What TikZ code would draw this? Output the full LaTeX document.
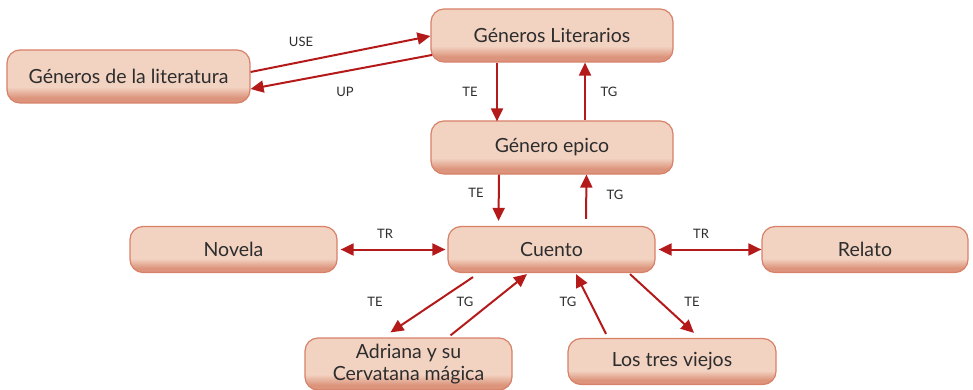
\documentclass[tikz,border=0pt]{standalone}
\usepackage{fontspec}
\setmainfont{Lato}
\usetikzlibrary{arrows.meta,calc}
\definecolor{topc}{RGB}{242,210,193}
\definecolor{botc}{RGB}{220,148,124}
\definecolor{edgec}{RGB}{216,128,104}
\definecolor{arr}{RGB}{180,26,26}
\definecolor{txt}{RGB}{45,45,45}
\pgfdeclareverticalshading{boxshade}{100bp}{color(0bp)=(botc); color(25bp)=(botc); color(30bp)=(botc); color(40bp)=(topc); color(75bp)=(topc); color(100bp)=(topc)}
\begin{document}
\begin{tikzpicture}[x=1pt,y=-1pt,
  box/.style={draw=edgec, line width=1.2pt, rounded corners=13pt, shading=boxshade,
    minimum height=46pt, inner sep=2pt, text=txt, font=\fontsize{19.5}{23}\selectfont, align=center},
  conn/.style={draw=arr, line width=2pt, -{Triangle[length=13pt,width=12pt]}},
  biconn/.style={draw=arr, line width=2pt, {Triangle[length=13pt,width=12pt]}-{Triangle[length=13pt,width=12pt]}},
  lab/.style={text=txt, font=\fontsize{13}{15}\selectfont}]
\useasboundingbox (0,0) rectangle (973,390);
\node[box, minimum width=243pt, minimum height=53pt] (gl) at (128.5,76.5) {Géneros de la literatura};
\node[box, minimum width=242pt, minimum height=53pt] (gls) at (552,35.5) {Géneros Literarios};
\node[box, minimum width=242pt, minimum height=53pt] (ge) at (552,147.5) {Género epico};
\node[box, minimum width=207pt] (nov) at (233.5,249.5) {Novela};
\node[box, minimum width=207pt] (cu) at (551.5,249.5) {Cuento};
\node[box, minimum width=206pt] (rel) at (865,249.5) {Relato};
\node[box, minimum width=207pt, minimum height=52pt, font=\fontsize{19.5}{22}\selectfont] (ad) at (408.5,364) {Adriana y su\\Cervatana mágica};
\node[box, minimum width=208pt] (lt) at (672,361.5) {Los tres viejos};

\draw[conn] ($(gl.east)+(0,-4.5)$) -- ($(gls.west)+(0,0.5)$);
\draw[conn] ($(gls.west)+(1.5,19.5)$) -- ($(gl.east)+(0,12.5)$);
\draw[conn] ($(gls.south)+(-55,0)$) -- ($(ge.north)+(-55,1)$);
\draw[conn] ($(ge.north)+(33,0)$) -- ($(gls.south)+(33,0)$);
\draw[conn] ($(ge.south)+(-53,0)$) -- ($(cu.north)+(-53,-5)$);
\draw[conn] ($(cu.north)+(34.5,-7)$) -- ($(ge.south)+(34.5,0)$);
\draw[biconn] ($(nov.east)+(3,0)$) -- ($(cu.west)+(-2,0)$);
\draw[biconn] ($(cu.east)+(3,0)$) -- ($(rel.west)+(0,0)$);
\draw[conn] ($(cu.south)+(-78.5,4)$) -- ($(ad.north)+(-18,-5)$);
\draw[conn] ($(ad.north)+(42,-2)$) -- ($(cu.south)+(-24.5,1)$);
\draw[conn] ($(lt.north)+(-66,-4)$) -- ($(cu.south)+(24.5,1)$);
\draw[conn] ($(cu.south)+(78.5,1)$) -- ($(lt.north)+(22,-5)$);

\node[lab] (l1) at (301,42) {USE};
\node[lab] (l2) at (345,92) {UP};
\node[lab] (l3) at (470,92) {TE};
\node[lab] (l4) at (609,92) {TG};
\node[lab] (l5) at (476,193) {TE};
\node[lab] (l6) at (615,195) {TG};
\node[lab] (l7) at (385,234) {TR};
\node[lab] (l8) at (701,234) {TR};
\node[lab] (l9) at (375,302) {TE};
\node[lab] (l10) at (465,302) {TG};
\node[lab] (l11) at (568,302) {TG};
\node[lab] (l12) at (692,302) {TE};
\end{tikzpicture}
\end{document}
